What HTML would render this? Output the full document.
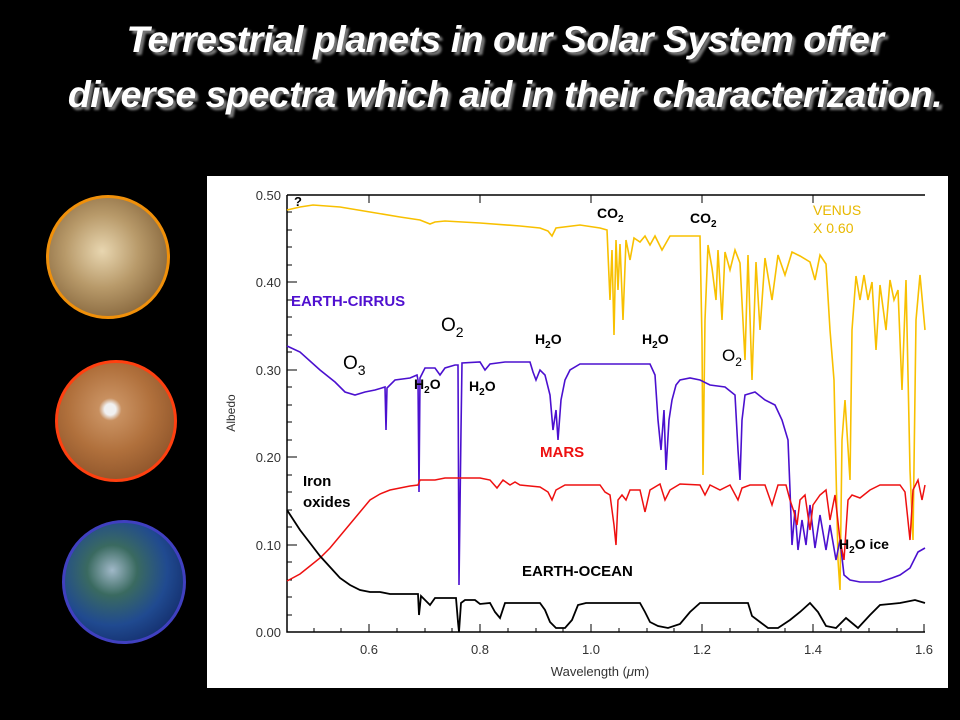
<!DOCTYPE html>
<html><head><style>
body{margin:0;background:#000;width:960px;height:720px;overflow:hidden;position:relative;font-family:"Liberation Sans",sans-serif}
.t{position:absolute;left:5px;width:1000px;text-align:center;color:#fff;font-style:italic;font-weight:bold;font-size:37.5px;text-shadow:3px 3px 2px #777;letter-spacing:-0.5px;white-space:nowrap}
.p{position:absolute;border-radius:50%}
</style></head><body>
<div class="t" style="top:18px">Terrestrial planets in our Solar System offer</div>
<div class="t" style="top:73px">diverse spectra which aid in their characterization.</div>
<div class="p" style="left:46px;top:195px;width:118px;height:118px;border:3px solid #f0900a;background:radial-gradient(circle at 45% 45%,#e8d6b0,#b89a6a 40%,#8a6a40 75%,#5a4020)"></div>
<div class="p" style="left:55px;top:360px;width:116px;height:116px;border:3px solid #ff4010;background:radial-gradient(circle at 45% 40%,#f0f0f0 6%,#c89060 12%,#b0703c 45%,#7a4420)"></div>
<div class="p" style="left:62px;top:520px;width:118px;height:118px;border:3px solid #4040c0;background:radial-gradient(circle at 40% 40%,#a0b8c8,#3a6a60 25%,#204a90 55%,#0a1850)"></div>
<svg width="960" height="720" style="position:absolute;left:0;top:0" font-family="Liberation Sans,sans-serif">
<rect x="207" y="176" width="741" height="512" fill="#fff"/>
<g stroke="#000" stroke-width="1.5" fill="none">
<polyline points="287,195 287,632 925,632"/>
<line x1="287" y1="195" x2="925" y2="195"/>
</g>
<g stroke="#000" stroke-width="1">
<path d="M287,195h10M287,282h10M287,370h10M287,457h10M287,545h10M287,632h10"/>
<path d="M287,212h5M287,230h5M287,247h5M287,265h5M287,300h5M287,317h5M287,335h5M287,352h5M287,387h5M287,405h5M287,422h5M287,440h5M287,475h5M287,492h5M287,510h5M287,527h5M287,562h5M287,580h5M287,597h5M287,615h5"/>
<path d="M369,632v-8M480,632v-8M591,632v-8M702,632v-8M813,632v-8M924,632v-8M369,195v8M480,195v8M591,195v8M702,195v8M813,195v8"/>
<path d="M314,632v-4M341,632v-4M397,632v-4M425,632v-4M452,632v-4M508,632v-4M536,632v-4M563,632v-4M619,632v-4M647,632v-4M674,632v-4M730,632v-4M758,632v-4M785,632v-4M841,632v-4M869,632v-4M897,632v-4"/>
</g>
<g font-size="13" fill="#333" text-anchor="end">
<text x="281" y="200">0.50</text><text x="281" y="287">0.40</text><text x="281" y="375">0.30</text><text x="281" y="462">0.20</text><text x="281" y="550">0.10</text><text x="281" y="637">0.00</text>
</g>
<g font-size="13" fill="#333" text-anchor="middle">
<text x="369" y="654">0.6</text><text x="480" y="654">0.8</text><text x="591" y="654">1.0</text><text x="702" y="654">1.2</text><text x="813" y="654">1.4</text><text x="924" y="654">1.6</text>
<text x="600" y="676">Wavelength (<tspan font-style="italic">μ</tspan>m)</text>
<text transform="translate(235,413) rotate(-90)" font-size="12">Albedo</text>
</g>
<polyline fill="none" stroke="#f8c000" stroke-width="1.6" points="287,210 300,207 313,205 340,207 370,212 400,217 420,220 430,224 435,222 445,221 480,223 520,226 540,228 548,231 552,236 556,228 580,225 600,228 607,230 610,300 612,250 614,335 616,240 618,290 620,244 623,320 626,240 630,260 634,238 640,242 645,236 650,245 655,236 662,250 670,236 700,236 702,340 703,475 705,320 708,245 712,268 716,300 718,250 722,320 725,252 730,270 735,250 740,263 745,360 748,255 752,380 756,262 760,330 765,258 772,300 778,255 785,275 792,252 800,256 810,262 815,280 820,255 826,264 830,330 834,380 838,560 840,590 842,440 845,400 850,480 852,330 856,276 860,300 864,275 868,300 872,282 876,350 880,285 886,330 890,280 894,300 898,290 902,390 906,280 910,470 913,540 916,320 920,275 925,330"/>
<polyline fill="none" stroke="#4b10cf" stroke-width="1.6" points="287,346 300,352 320,370 335,382 345,392 355,395 365,392 375,390 385,387 386,430 387,388 395,380 410,378 417,375 418,380 419,492 420,378 425,368 435,368 440,375 445,368 455,365 458,365 459,585 461,430 462,363 480,362 485,370 490,364 505,362 530,362 533,372 536,380 540,370 545,375 550,395 553,430 556,410 558,440 561,400 565,380 570,370 580,364 650,364 655,375 658,420 661,450 664,410 666,470 669,420 672,400 676,385 680,380 690,378 700,380 710,385 725,387 735,395 738,450 740,480 742,420 745,395 755,392 765,400 775,405 782,420 788,440 790,490 792,545 795,510 798,550 802,520 806,545 810,505 815,548 820,515 826,550 830,525 836,560 840,540 844,575 850,580 860,582 880,582 892,578 900,575 910,568 918,552 925,548"/>
<polyline fill="none" stroke="#ee1010" stroke-width="1.5" points="287,581 300,574 310,566 320,558 330,548 340,536 350,524 360,512 370,500 380,494 390,490 400,488 410,486 418,485 420,480 435,480 445,478 480,478 490,480 497,488 503,480 510,485 515,482 520,485 530,486 540,487 548,492 552,500 556,490 565,485 600,485 605,492 610,495 614,525 616,545 618,500 622,495 626,500 630,490 640,490 645,512 650,490 660,484 665,500 670,490 680,484 700,485 705,495 710,485 720,490 730,485 738,500 742,488 750,485 765,485 772,505 778,485 786,485 790,500 794,512 797,525 800,500 805,495 810,530 813,505 820,495 826,490 830,520 835,495 840,540 844,560 848,500 852,495 860,498 870,490 880,485 900,485 905,492 910,540 913,490 918,480 922,500 925,485"/>
<polyline fill="none" stroke="#000" stroke-width="1.8" points="287,510 300,530 310,543 320,556 330,567 340,578 350,585 360,590 370,592 380,592 390,594 400,594 410,594 418,594 419,615 421,596 425,600 430,605 435,598 440,598 450,598 456,598 458,622 459,632 461,603 465,600 475,600 480,604 490,603 495,612 500,618 505,603 540,603 545,610 550,622 556,628 565,628 572,620 578,605 586,603 640,603 645,612 650,622 658,626 668,628 680,624 690,612 700,603 748,603 752,616 760,622 768,628 778,628 790,620 800,612 810,603 818,612 826,626 836,628 846,618 858,628 870,615 880,605 900,603 915,600 925,603"/>
<g font-weight="bold" font-size="14" fill="#000">
<text x="294" y="206" font-size="13">?</text>
<text x="597" y="218">CO<tspan font-size="10" dy="4">2</tspan></text>
<text x="690" y="223">CO<tspan font-size="10" dy="4">2</tspan></text>
<text x="813" y="215" fill="#e8b800" font-weight="normal">VENUS</text>
<text x="813" y="233" fill="#e8b800" font-weight="normal">X 0.60</text>
<text x="291" y="306" fill="#5010d0" font-size="15">EARTH-CIRRUS</text>
<text x="441" y="331" font-size="19" font-weight="normal">O<tspan font-size="14" dy="6">2</tspan></text>
<text x="343" y="369" font-size="19" font-weight="normal">O<tspan font-size="14" dy="6">3</tspan></text>
<text x="535" y="344">H<tspan font-size="10" dy="4">2</tspan><tspan dy="-4">O</tspan></text>
<text x="642" y="344">H<tspan font-size="10" dy="4">2</tspan><tspan dy="-4">O</tspan></text>
<text x="414" y="389">H<tspan font-size="10" dy="4">2</tspan><tspan dy="-4">O</tspan></text>
<text x="469" y="391">H<tspan font-size="10" dy="4">2</tspan><tspan dy="-4">O</tspan></text>
<text x="722" y="361" font-size="17" font-weight="normal">O<tspan font-size="12" dy="5">2</tspan></text>
<text x="540" y="457" fill="#ee1010" font-size="15">MARS</text>
<text x="303" y="486" font-size="15">Iron</text>
<text x="303" y="507" font-size="15">oxides</text>
<text x="522" y="576" font-size="15">EARTH-OCEAN</text>
<text x="839" y="549">H<tspan font-size="10" dy="4">2</tspan><tspan dy="-4">O ice</tspan></text>
</g>
</svg>
</body></html>
